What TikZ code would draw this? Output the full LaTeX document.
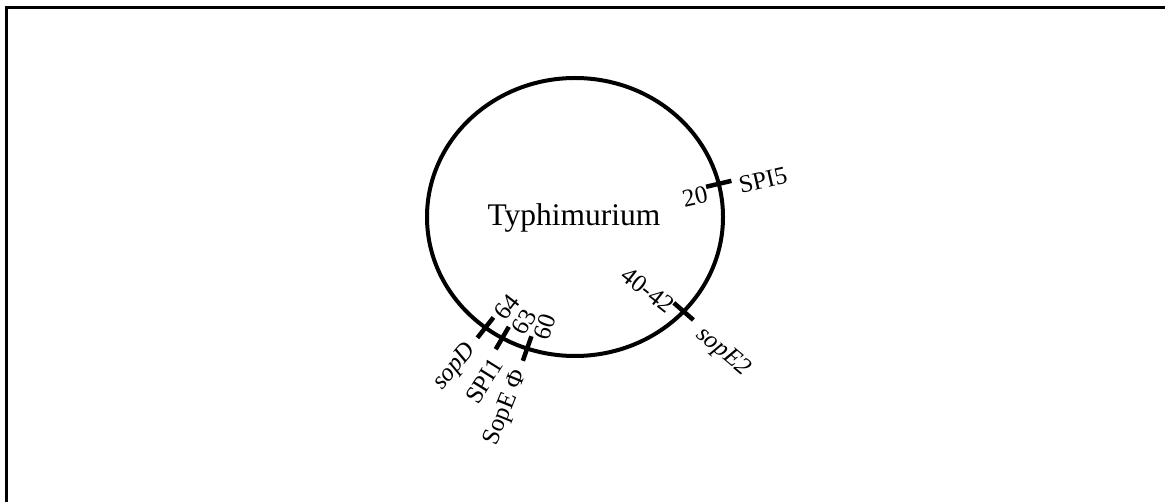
\documentclass[tikz,border=0pt]{standalone}
\usepackage{fontspec}
\setmainfont{Liberation Serif}
\usetikzlibrary{shapes.geometric}
\begin{document}
\begin{tikzpicture}[x=1pt,y=-1pt,
  chromosome/.style={draw, ellipse, line width=4pt, minimum width=296pt,
    minimum height=278pt, inner sep=0pt, outer sep=0pt},
  locus/.style={line width=4.5pt},
  lbl/.style={font=\fontsize{25}{25}\selectfont, inner sep=0pt},
  gene/.style={inner sep=0pt, font=\fontsize{25}{25}\selectfont\itshape},
  frameline/.style={line width=3pt}]
\useasboundingbox (0,0) rectangle (1165,502);
% partial frame
\draw[frameline] (6,502) -- (6,7.5) -- (1165,7.5);
% chromosome map
\node[chromosome] (chr) at (575,217) {};
\node[font=\fontsize{31.5}{31.5}\selectfont, inner sep=0pt, anchor=base] (name) at (574,226) {Typhimurium};
% locus marks across the chromosome line
\foreach \n/\a in {spifive/13.2, sopetwo/-41.1, sopd/231.8, spione/239.7, phage/250.7}{
  \coordinate (\n) at (chr.\a);
  \draw[locus] (\n) ++(\a:13pt) -- ++({\a+180}:26pt);
}
% positions (inside) and names (outside)
\node[lbl, rotate=13] (c20) at (695,197) {20};
\node[lbl, rotate=13] (spi5) at (763,180) {SPI5};
\node[lbl, rotate=-38] (c4042) at (648,290) {40-42};
\node[gene, rotate=-40] (sope2) at (723,352) {sopE2};
\node[lbl, rotate=52] (c64) at (507,307) {64};
\node[lbl, rotate=60] (c63) at (524,322) {63};
\node[lbl, rotate=71] (c60) at (545,327) {60};
\node[gene, rotate=50] (sopdname) at (455,367) {sopD};
\node[lbl, rotate=58] (spi1) at (484,381) {SPI1};
\node[lbl, rotate=68] (sopephi) at (506,408) {SopE Φ};
\end{tikzpicture}
\end{document}
